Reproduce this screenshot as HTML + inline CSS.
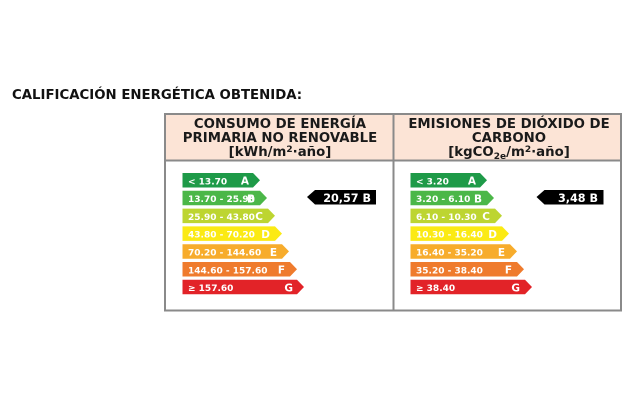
<!DOCTYPE html>
<html><head><meta charset="utf-8"><style>
html,body{margin:0;padding:0;background:#fff;width:640px;height:400px;overflow:hidden}
svg{display:block}
.t{font-family:"DejaVu Sans","Liberation Sans",sans-serif;font-weight:bold}
.v{font-family:"DejaVu Sans","Liberation Sans",sans-serif;font-size:9px;font-weight:bold;fill:#fff}
.l{font-family:"DejaVu Sans","Liberation Sans",sans-serif;font-weight:bold;font-size:10.5px;fill:#fff}
</style></head><body>
<svg width="640" height="400" viewBox="0 0 640 400" xmlns="http://www.w3.org/2000/svg">
<text class="t" x="12" y="99" font-size="13.3" fill="#111">CALIFICACIÓN ENERGÉTICA OBTENIDA:</text>
<rect x="165" y="114" width="456" height="46" fill="#fce4d6"/>
<rect x="165" y="114" width="456" height="196.5" fill="none" stroke="#8a8a8a" stroke-width="2"/>
<line x1="165" y1="160.5" x2="621" y2="160.5" stroke="#8a8a8a" stroke-width="2"/>
<line x1="393.5" y1="114" x2="393.5" y2="310.5" stroke="#8a8a8a" stroke-width="2"/>
<g class="t" font-size="13.3" fill="#1a1a1a" text-anchor="middle">
<text x="280" y="128">CONSUMO DE ENERGÍA</text>
<text x="280" y="142">PRIMARIA NO RENOVABLE</text>
<text x="280" y="156">[kWh/m<tspan font-size="9" dy="-4">2</tspan><tspan dy="4">·año]</tspan></text>
<text x="509" y="128">EMISIONES DE DIÓXIDO DE</text>
<text x="509" y="142">CARBONO</text>
<text x="509" y="156">[kgCO<tspan font-size="9" dy="3">2e</tspan><tspan dy="-3">/m</tspan><tspan font-size="9" dy="-4">2</tspan><tspan dy="4">·año]</tspan></text>
</g>
<g>
<polygon points="182.5,173 253,173 260,180.2 253,187.5 182.5,187.5" fill="#1e9a48"/>
<polygon points="182.5,190.8 260,190.8 267,198 260,205.3 182.5,205.3" fill="#4bb748"/>
<polygon points="182.5,208.6 268,208.6 275,215.8 268,223.1 182.5,223.1" fill="#bdd531"/>
<polygon points="182.5,226.4 275,226.4 282,233.6 275,240.9 182.5,240.9" fill="#fbea14"/>
<polygon points="182.5,244.2 282,244.2 289,251.4 282,258.7 182.5,258.7" fill="#f7ac2c"/>
<polygon points="182.5,262 290,262 297,269.2 290,276.5 182.5,276.5" fill="#ef7b2d"/>
<polygon points="182.5,279.8 297,279.8 304,287 297,294.3 182.5,294.3" fill="#e22328"/>
</g>
<g class="v">
<text x="188" y="184.3">&lt; 13.70</text>
<text x="188" y="202.1">13.70 - 25.90</text>
<text x="188" y="219.9">25.90 - 43.80</text>
<text x="188" y="237.7">43.80 - 70.20</text>
<text x="188" y="255.5">70.20 - 144.60</text>
<text x="188" y="273.3">144.60 - 157.60</text>
<text x="188" y="291.1">≥ 157.60</text>
</g>
<g class="l" text-anchor="end">
<text x="249" y="184.6">A</text>
<text x="255" y="202.4">B</text>
<text x="263" y="220.2">C</text>
<text x="270" y="238">D</text>
<text x="277" y="255.8">E</text>
<text x="285" y="273.6">F</text>
<text x="293" y="291.4">G</text>
</g>
<g>
<polygon points="410.5,173 480,173 487,180.2 480,187.5 410.5,187.5" fill="#1e9a48"/>
<polygon points="410.5,190.8 487,190.8 494,198 487,205.3 410.5,205.3" fill="#4bb748"/>
<polygon points="410.5,208.6 495,208.6 502,215.8 495,223.1 410.5,223.1" fill="#bdd531"/>
<polygon points="410.5,226.4 502,226.4 509,233.6 502,240.9 410.5,240.9" fill="#fbea14"/>
<polygon points="410.5,244.2 510,244.2 517,251.4 510,258.7 410.5,258.7" fill="#f7ac2c"/>
<polygon points="410.5,262 517,262 524,269.2 517,276.5 410.5,276.5" fill="#ef7b2d"/>
<polygon points="410.5,279.8 525,279.8 532,287 525,294.3 410.5,294.3" fill="#e22328"/>
</g>
<g class="v">
<text x="416" y="184.3">&lt; 3.20</text>
<text x="416" y="202.1">3.20 - 6.10</text>
<text x="416" y="219.9">6.10 - 10.30</text>
<text x="416" y="237.7">10.30 - 16.40</text>
<text x="416" y="255.5">16.40 - 35.20</text>
<text x="416" y="273.3">35.20 - 38.40</text>
<text x="416" y="291.1">≥ 38.40</text>
</g>
<g class="l" text-anchor="end">
<text x="476" y="184.6">A</text>
<text x="482" y="202.4">B</text>
<text x="490" y="220.2">C</text>
<text x="497" y="238">D</text>
<text x="505" y="255.8">E</text>
<text x="512" y="273.6">F</text>
<text x="520" y="291.4">G</text>
</g>
<polygon points="307,197 315,190 376,190 376,204.5 315,204.5" fill="#000"/>
<text class="t" x="371" y="201.8" font-size="11.2" fill="#fff" text-anchor="end">20,57 B</text>
<polygon points="536.5,197 544.5,190 603.5,190 603.5,204.5 544.5,204.5" fill="#000"/>
<text class="t" x="598" y="201.8" font-size="11.2" fill="#fff" text-anchor="end">3,48 B</text>
</svg>
</body></html>
